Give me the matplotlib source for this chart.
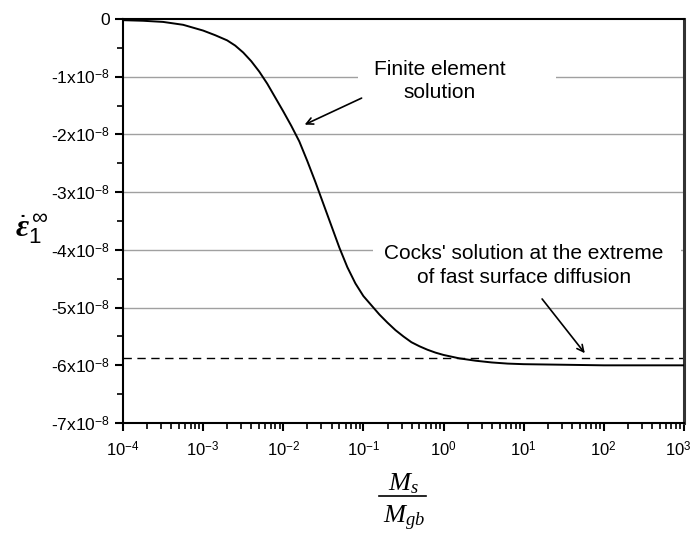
import numpy as np
import matplotlib.pyplot as plt
from matplotlib.lines import Line2D
from matplotlib.patches import Rectangle
from matplotlib.transforms import ScaledTranslation
from matplotlib.ticker import FixedLocator, FixedFormatter, LogLocator, NullFormatter

plt.rcParams['font.family'] = ['Liberation Sans', 'DejaVu Sans']
plt.rcParams['mathtext.fontset'] = 'custom'
plt.rcParams['mathtext.rm'] = 'Liberation Sans'
plt.rcParams['mathtext.it'] = 'Liberation Serif:italic'
plt.rcParams['mathtext.bf'] = 'Liberation Serif:bold'
plt.rcParams['mathtext.bfit'] = 'Liberation Serif:italic:bold'
plt.rcParams['mathtext.fallback'] = 'stix'

# Ms/Mgb (log10) and finite element creep rate (x1e-8)
log_ratio = [-4.0, -3.75, -3.5, -3.25, -3.0, -2.85, -2.7, -2.6, -2.5, -2.4,
             -2.3, -2.2, -2.1, -2.0, -1.9, -1.8, -1.7, -1.6, -1.5, -1.4,
             -1.3, -1.2, -1.1, -1.0, -0.9, -0.8, -0.7, -0.6, -0.5, -0.4,
             -0.3, -0.2, -0.1, 0.0, 0.2, 0.4, 0.6, 0.8, 1.0, 1.5, 2.0, 3.0]
fe_rate = [-0.02, -0.03, -0.05, -0.10, -0.20, -0.28, -0.37, -0.46, -0.58, -0.73,
           -0.91, -1.12, -1.36, -1.60, -1.85, -2.12, -2.46, -2.82, -3.20, -3.58,
           -3.96, -4.30, -4.58, -4.80, -4.96, -5.12, -5.26, -5.39, -5.50, -5.60,
           -5.67, -5.73, -5.78, -5.82, -5.88, -5.92, -5.95, -5.97, -5.98, -5.99,
           -6.00, -6.00]
cocks_rate = -5.88

ytick_vals = [0, -1, -2, -3, -4, -5, -6, -7]
ytick_labels = ['0'] + ['-%dx10$^{-8}$' % k for k in range(1, 8)]
grid_levels = [-1, -2, -3, -4, -5]
xtick_exps = [-4, -3, -2, -1, 0, 1, 2, 3]

ratio = 10.0 ** np.array(log_ratio)
rate = np.array(fe_rate) * 1e-8

fig = plt.figure(figsize=(6.95, 5.53), dpi=100)
ax = fig.add_axes([0.177, 0.235, 0.807, 0.7306])

ax.set_xscale('log')
ax.set_xlim(1e-4, 1e3)
ax.set_ylim(-7e-8, 0)

for g in grid_levels:
    ax.axhline(g * 1e-8, color='#a0a0a0', lw=1.0, zorder=0.5)

# white boxes behind the labels hide parts of the grid
ax.add_patch(Rectangle((10 ** -1.07, -1.3e-8), 10 ** 1.41 - 10 ** -1.07, 0.6e-8,
                       facecolor='white', edgecolor='none', zorder=1))
ax.add_patch(Rectangle((10 ** -0.88, -4.2e-8), 10 ** 2.96 - 10 ** -0.88, 0.4e-8,
                       facecolor='white', edgecolor='none', zorder=1))

ax.axhline(cocks_rate * 1e-8, color='black', lw=1.0, ls=(0, (6, 4)), zorder=2)
ax.plot(ratio, rate, color='black', lw=1.4, zorder=3)

ax.text(0.9, -1.07e-8, 'Finite element\nsolution', ha='center', va='center',
        fontsize=15, linespacing=1.3, zorder=4)
ax.text(10.0, -4.27e-8, "Cocks' solution at the extreme\nof fast surface diffusion",
        ha='center', va='center', fontsize=15, linespacing=1.3, zorder=4)

ax.annotate('', xy=(0.0185, -1.83e-8), xytext=(0.095, -1.37e-8),
            arrowprops=dict(arrowstyle='->', lw=1.2, color='black',
                            shrinkA=0, shrinkB=0, mutation_scale=12), zorder=4)
ax.annotate('', xy=(58.0, -5.79e-8), xytext=(17.0, -4.85e-8),
            arrowprops=dict(arrowstyle='->', lw=1.2, color='black',
                            shrinkA=0, shrinkB=0, mutation_scale=12), zorder=4)

ax.yaxis.set_major_locator(FixedLocator([v * 1e-8 for v in ytick_vals]))
ax.yaxis.set_major_formatter(FixedFormatter(ytick_labels))
ax.yaxis.set_minor_locator(FixedLocator([(v - 0.5) * 1e-8 for v in ytick_vals[:-1]]))

ax.xaxis.set_major_locator(FixedLocator([10.0 ** e for e in xtick_exps]))
ax.xaxis.set_major_formatter(FixedFormatter(['10$^{%d}$' % e for e in xtick_exps]))
ax.xaxis.set_minor_locator(LogLocator(base=10, subs=np.arange(2, 10), numticks=20))
ax.xaxis.set_minor_formatter(NullFormatter())

ax.tick_params(which='major', direction='out', length=6, width=1.5,
               labelsize=12.5, color='black')
ax.tick_params(axis='x', which='major', labelsize=12, pad=6)
ax.tick_params(which='minor', direction='out', length=4, width=1.2, color='black')

# keep the last x label inside the figure
last = ax.xaxis.get_major_ticks()[-1].label1
last.set_transform(last.get_transform() + ScaledTranslation(-4 / 72, 0, fig.dpi_scale_trans))

for side in ['left', 'bottom', 'top']:
    ax.spines[side].set_linewidth(1.5)
    ax.spines[side].set_color('black')
ax.spines['right'].set_linewidth(2.2)
ax.spines['right'].set_color('#333333')

ax.set_ylabel(r'$\dot{\mathbfit{\varepsilon}}_{1}^{\,\infty}$', rotation=0,
              fontsize=23, va='center', ha='center')
ax.yaxis.set_label_coords(-0.163, 0.48)

# x label: Ms over Mgb as a stacked fraction
fig.text(0.581, 0.113, r'$M_s$', ha='center', va='baseline', fontsize=19)
fig.add_artist(Line2D([0.546, 0.613], [0.1025, 0.1025], color='black', lw=1.2))
fig.text(0.581, 0.053, r'$M_{gb}$', ha='center', va='baseline', fontsize=19)

fig.savefig('out.png', dpi=100)
